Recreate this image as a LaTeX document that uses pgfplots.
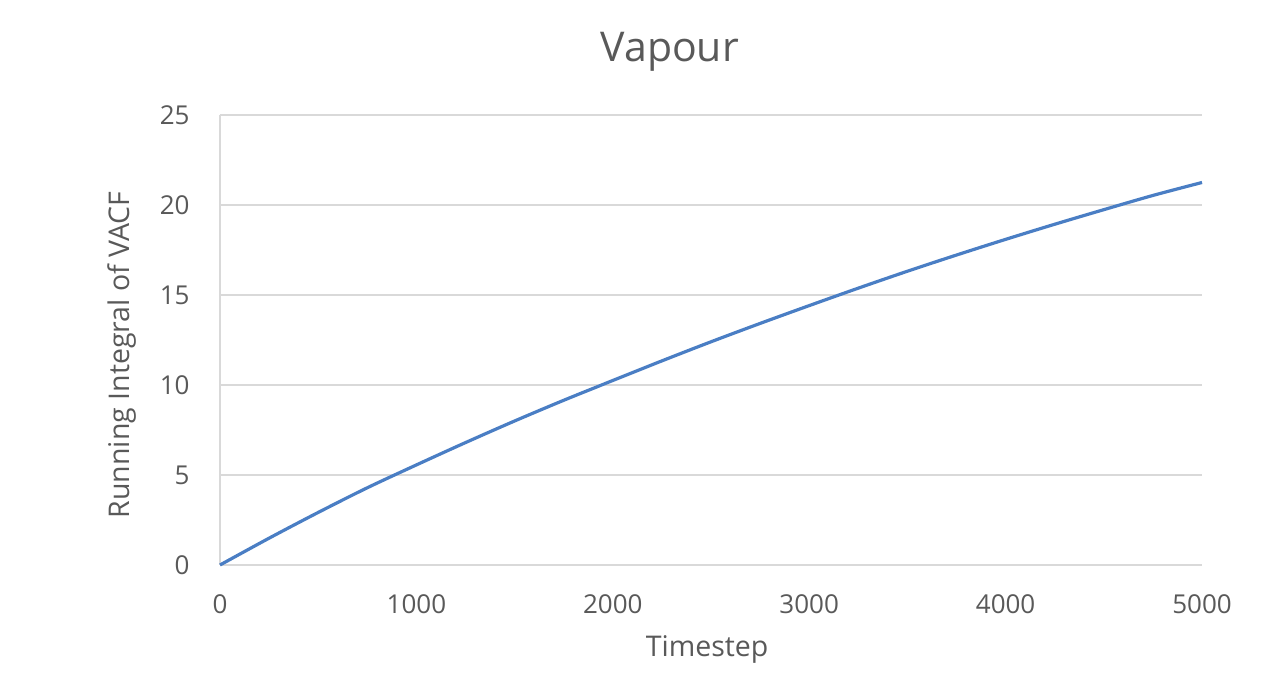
\documentclass[border=0pt]{standalone}
\usepackage{pgfplots}
\pgfplotsset{compat=1.18}
\usepackage{fontspec}
\setmainfont{Open Sans}
\definecolor{txtgray}{HTML}{595959}
\definecolor{gridgray}{HTML}{D9D9D9}
\definecolor{lineblue}{HTML}{4A7EC4}
\begin{document}
\begin{tikzpicture}
\useasboundingbox (-110pt,-59pt) rectangle (534pt,282.5pt);
\begin{axis}[
  at={(0,0)}, anchor=south west,
  scale only axis, width=491pt, height=225pt,
  xmin=0, xmax=5000, ymin=0, ymax=25,
  xtick={0,1000,2000,3000,4000,5000},
  ytick={0,5,10,15,20,25},
  major tick length=0pt,
  ymajorgrids, grid style={gridgray, line width=0.9pt},
  axis x line*=bottom, axis y line*=left,
  axis line style={gridgray, line width=0.9pt, -},
  /pgf/number format/assume math mode=true,
  /pgf/number format/set thousands separator={},
  tick label style={font=\fontsize{13}{15}\selectfont, text=txtgray, inner sep=0pt},
  yticklabel style={anchor=east, xshift=-15pt},
  xticklabel style={anchor=north, yshift=-14.5pt},
  clip=false,
]
\addplot[lineblue, line width=1.6pt, smooth] coordinates {
(0,0) (250,1.49) (500,2.92) (750,4.29) (1000,5.56) (1250,6.80)
(1500,8.00) (1750,9.15) (2000,10.25) (2250,11.34) (2500,12.40)
(2750,13.42) (3000,14.41) (3250,15.38) (3500,16.32) (3750,17.22)
(4000,18.09) (4250,18.93) (4500,19.74) (4750,20.53) (5000,21.25)
};
\node[rotate=90, text=txtgray, font=\fontsize{14.25}{16}\selectfont, inner sep=0pt] at (rel axis cs:-0.0998,0.467) {Running Integral of VACF};
\node[text=txtgray, font=\fontsize{14.25}{16}\selectfont, inner sep=0pt] at (rel axis cs:0.496,-0.1878) {Timestep};
\node[text=txtgray, font=\fontsize{20.5}{24}\selectfont, inner sep=0pt] at (rel axis cs:0.458,1.141) {Vapour};
\end{axis}
\end{tikzpicture}
\end{document}
